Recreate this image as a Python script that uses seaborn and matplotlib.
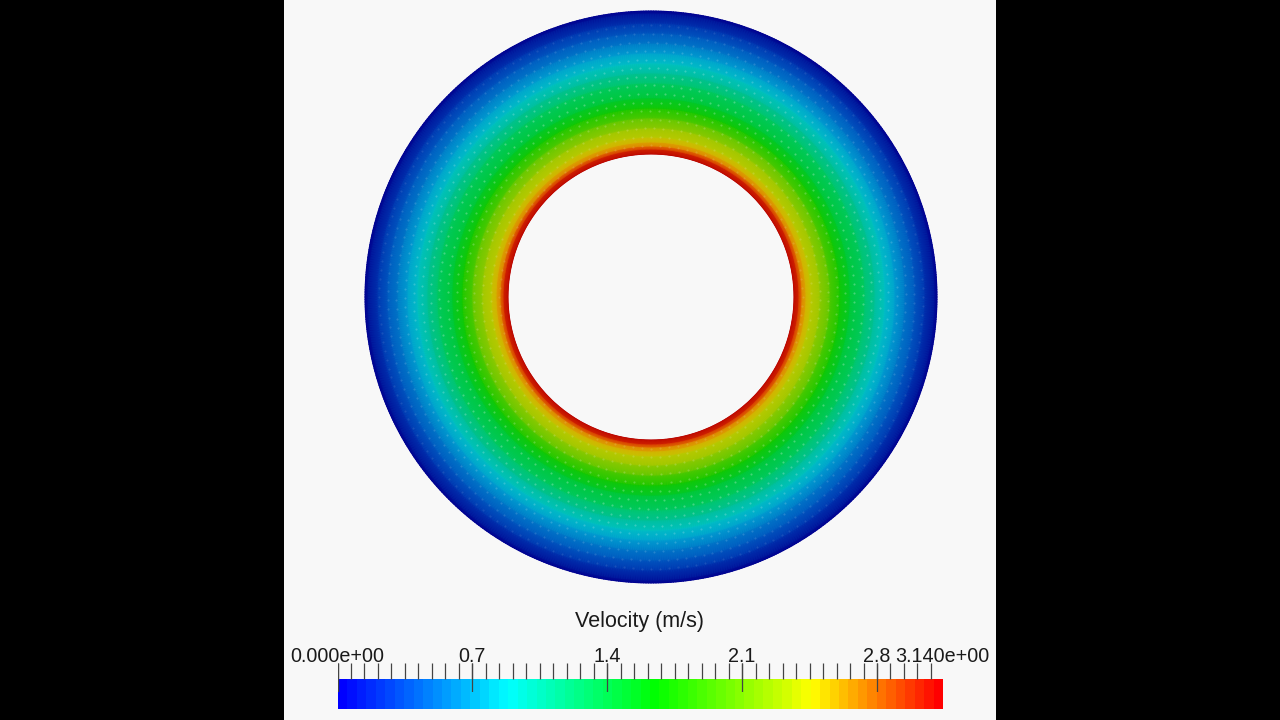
import numpy as np
import matplotlib
matplotlib.use("Agg")
import matplotlib.pyplot as plt
from matplotlib.colors import LinearSegmentedColormap
import seaborn as sns

# Data
title = "Velocity (m/s)"
v_max = 3.14
major_ticks = [0.0, 0.7, 1.4, 2.1, 2.8, 3.14]
major_labels = ["0.000e+00", "0.7", "1.4", "2.1", "2.8", "3.140e+00"]
n_bar_bands = 64
minor_step = 0.07

# radial profile: ring radius relative to the outer wall, speed in m/s, shaded colour seen there
radius_frac = [0.500, 0.517, 0.528, 0.542, 0.559, 0.591, 0.626, 0.661, 0.696,
               0.748, 0.783, 0.818, 0.853, 0.888, 0.923, 0.958, 0.993, 1.000]
speed = [3.14, 3.03, 2.85, 2.65, 2.45, 2.20, 1.95, 1.72, 1.58,
         1.38, 1.22, 1.03, 0.82, 0.62, 0.43, 0.26, 0.05, 0.00]
ring_colors = ["#b80000", "#d83000", "#e08000", "#d8b000", "#c0c800", "#98c800", "#58c800", "#14c800", "#00c830",
               "#00c868", "#00c098", "#00c0c4", "#00a0d0", "#0078c8", "#0058c0", "#0034b0", "#001098", "#000090"]

# mesh nodes: radius fraction of each ring and node count along it
node_radius = [0.53, 0.56, 0.59, 0.62, 0.65, 0.68, 0.71, 0.74, 0.77, 0.80, 0.83, 0.86, 0.89, 0.92, 0.95]
node_count = [104, 110, 116, 122, 128, 134, 140, 146, 152, 158, 164, 170, 176, 182, 188]

bar_stops = [(0.0, "#0000ff"), (0.28, "#00ffff"), (0.527, "#00ff00"), (0.79, "#ffff00"), (1.0, "#ff0000")]

PANEL = "#f8f8f8"
W, H = 1280, 720


def px_axes(fig, left, top, right, bottom):
    return fig.add_axes([left / W, 1 - bottom / H, (right - left) / W, (bottom - top) / H])


sns.set_theme(style="white")
plt.rcParams["font.family"] = ["Liberation Sans", "DejaVu Sans"]

bar_cmap = LinearSegmentedColormap.from_list("bar", bar_stops)
ring_cmap = LinearSegmentedColormap.from_list(
    "ring", sorted(zip([s / v_max for s in speed], ring_colors)), N=1024)

fig = plt.figure(figsize=(W / 100, H / 100), dpi=100, facecolor="black")

# light panel
panel = px_axes(fig, 284, 0, 996, 720)
panel.set_facecolor(PANEL)
panel.set_xticks([])
panel.set_yticks([])
sns.despine(ax=panel, left=True, bottom=True)
panel.text(0.4986, 1 - 621 / 720, title, transform=panel.transAxes, ha="center", va="center",
           fontsize=15.5, color="#1a1a1a")

# annulus
ax = px_axes(fig, 351, -3, 951, 597)
ax.patch.set_alpha(0)
ax.set_xlim(-300 / 286, 300 / 286)
ax.set_ylim(-300 / 286, 300 / 286)
ax.axis("off")
theta = np.linspace(0, 2 * np.pi, 721)
rr = np.array(radius_frac)
X = np.outer(rr, np.cos(theta))
Y = np.outer(rr, np.sin(theta))
C = np.repeat(np.array(speed)[:, None], theta.size, axis=1)
ax.pcolormesh(X, Y, C, cmap=ring_cmap, vmin=0, vmax=v_max, shading="gouraud", rasterized=True)
for i, (r, n) in enumerate(zip(node_radius, node_count)):
    t = np.linspace(0, 2 * np.pi, n, endpoint=False) + (i * 0.37)
    alpha = 0.08 + 0.2 * (1 - abs(r - 0.72) / 0.25)
    ax.scatter(r * np.cos(t), r * np.sin(t), s=2.4, c="white", alpha=alpha, linewidths=0)

# colour bar through seaborn
ax_bar = px_axes(fig, 338, 679, 943, 709)
bar_values = np.linspace(0, v_max, n_bar_bands).reshape(1, -1)
sns.heatmap(bar_values, ax=ax_bar, cmap=bar_cmap, vmin=0, vmax=v_max, cbar=False,
            xticklabels=False, yticklabels=False)

# tick overlay
ax_tick = px_axes(fig, 337.5, 663, 942.5, 692)
ax_tick.patch.set_alpha(0)
ax_tick.set_xlim(0, v_max)
ax_tick.set_ylim(0, 29)
sns.despine(ax=ax_tick, left=True, bottom=True)
minor = np.arange(0, v_max, minor_step)
ax_tick.vlines(minor, 13, 29, color="#444444", lw=0.9)
ax_tick.vlines(major_ticks[:-1], 0, 29, color="#444444", lw=0.9)
ax_tick.xaxis.tick_top()
ax_tick.set_xticks(major_ticks)
ax_tick.set_xticklabels(major_labels, fontsize=14.2, color="#1a1a1a")
ax_tick.tick_params(axis="x", length=0, pad=-2.5)
ax_tick.set_yticks([])

fig.savefig("out.png", dpi=100, facecolor=fig.get_facecolor())
